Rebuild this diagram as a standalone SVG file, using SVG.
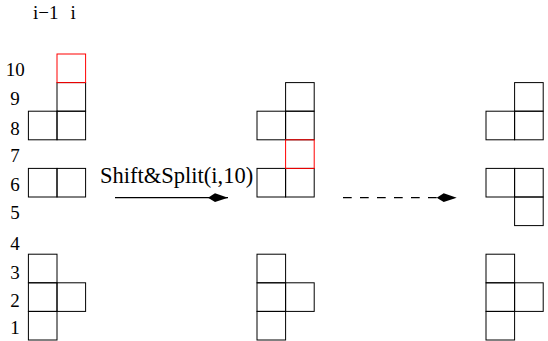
<svg xmlns="http://www.w3.org/2000/svg" width="548" height="341" viewBox="0 0 548 341">
  <style>
    .cell { fill: none; stroke: #000; stroke-width: 1; }
    .hot { fill: none; stroke: #ff0000; stroke-width: 1; }
    .lbl { font-family: "Liberation Serif", "Times New Roman", serif; font-size: 19px; fill: #000; }
    .op { font-family: "Liberation Serif", "Times New Roman", serif; font-size: 22.5px; fill: #000; }
    .flow { stroke: #000; stroke-width: 1.3; fill: none; }
  </style>
  <defs>
    <marker id="kite" viewBox="-1 -5 22 10" refX="20" refY="0" markerWidth="22" markerHeight="10" markerUnits="userSpaceOnUse" orient="auto">
      <path d="M0,0 L7,-4.4 L20,0 L7,4.4 Z" fill="#000"/>
    </marker>
  </defs>

  <!-- column headings -->
  <g id="col-labels">
    <text class="lbl" x="33" y="19">i−1</text>
    <text class="lbl" x="70.5" y="19">i</text>
  </g>

  <!-- row numbers -->
  <g id="row-labels" text-anchor="end">
    <text class="lbl" x="24.8" y="76">10</text>
    <text class="lbl" x="19.8" y="105">9</text>
    <text class="lbl" x="19.8" y="134.5">8</text>
    <text class="lbl" x="19.8" y="162">7</text>
    <text class="lbl" x="19.8" y="191">6</text>
    <text class="lbl" x="19.8" y="219">5</text>
    <text class="lbl" x="19.8" y="250">4</text>
    <text class="lbl" x="19.8" y="279">3</text>
    <text class="lbl" x="19.8" y="307">2</text>
    <text class="lbl" x="19.8" y="334">1</text>
  </g>

  <!-- initial state: upper stack -->
  <g id="start-top">
    <rect class="cell" x="57" y="82.6" width="28.6" height="28.6"/>
    <rect class="cell" x="28.4" y="111.2" width="28.6" height="28.6"/>
    <rect class="cell" x="57" y="111.2" width="28.6" height="28.6"/>
    <rect class="cell" x="28.4" y="168.4" width="28.6" height="28.6"/>
    <rect class="cell" x="57" y="168.4" width="28.6" height="28.6"/>
    <rect class="hot" x="57" y="54" width="28.6" height="28.6"/>
  </g>

  <!-- initial state: lower stack -->
  <g id="start-bottom">
    <rect class="cell" x="28.4" y="254.2" width="28.6" height="28.6"/>
    <rect class="cell" x="28.4" y="282.8" width="28.6" height="28.6"/>
    <rect class="cell" x="57" y="282.8" width="28.6" height="28.6"/>
    <rect class="cell" x="28.4" y="311.4" width="28.6" height="28.6"/>
  </g>

  <!-- after shift: upper stack -->
  <g id="mid-top">
    <rect class="cell" x="285.6" y="82.6" width="28.6" height="28.6"/>
    <rect class="cell" x="257" y="111.2" width="28.6" height="28.6"/>
    <rect class="cell" x="285.6" y="111.2" width="28.6" height="28.6"/>
    <rect class="cell" x="257" y="168.4" width="28.6" height="28.6"/>
    <rect class="cell" x="285.6" y="168.4" width="28.6" height="28.6"/>
    <rect class="hot" x="285.6" y="139.8" width="28.6" height="28.6"/>
  </g>

  <!-- after shift: lower stack -->
  <g id="mid-bottom">
    <rect class="cell" x="257" y="254.2" width="28.6" height="28.6"/>
    <rect class="cell" x="257" y="282.8" width="28.6" height="28.6"/>
    <rect class="cell" x="285.6" y="282.8" width="28.6" height="28.6"/>
    <rect class="cell" x="257" y="311.4" width="28.6" height="28.6"/>
  </g>

  <!-- final state: upper stack -->
  <g id="end-top">
    <rect class="cell" x="514.6" y="82.6" width="28.6" height="28.6"/>
    <rect class="cell" x="486" y="111.2" width="28.6" height="28.6"/>
    <rect class="cell" x="514.6" y="111.2" width="28.6" height="28.6"/>
    <rect class="cell" x="486" y="168.4" width="28.6" height="28.6"/>
    <rect class="cell" x="514.6" y="168.4" width="28.6" height="28.6"/>
    <rect class="cell" x="514.6" y="197" width="28.6" height="28.6"/>
  </g>

  <!-- final state: lower stack -->
  <g id="end-bottom">
    <rect class="cell" x="486" y="254.2" width="28.6" height="28.6"/>
    <rect class="cell" x="486" y="282.8" width="28.6" height="28.6"/>
    <rect class="cell" x="514.6" y="282.8" width="28.6" height="28.6"/>
    <rect class="cell" x="486" y="311.4" width="28.6" height="28.6"/>
  </g>

  <!-- transitions -->
  <g id="connectors">
    <line class="flow" x1="115" y1="197.7" x2="228" y2="197.7" marker-end="url(#kite)"/>
    <text class="op" x="100" y="183.3">Shift&amp;Split(i,10)</text>
    <line class="flow" x1="343" y1="197.7" x2="456.7" y2="197.7" stroke-dasharray="8.7 8.3" marker-end="url(#kite)"/>
  </g>
</svg>
